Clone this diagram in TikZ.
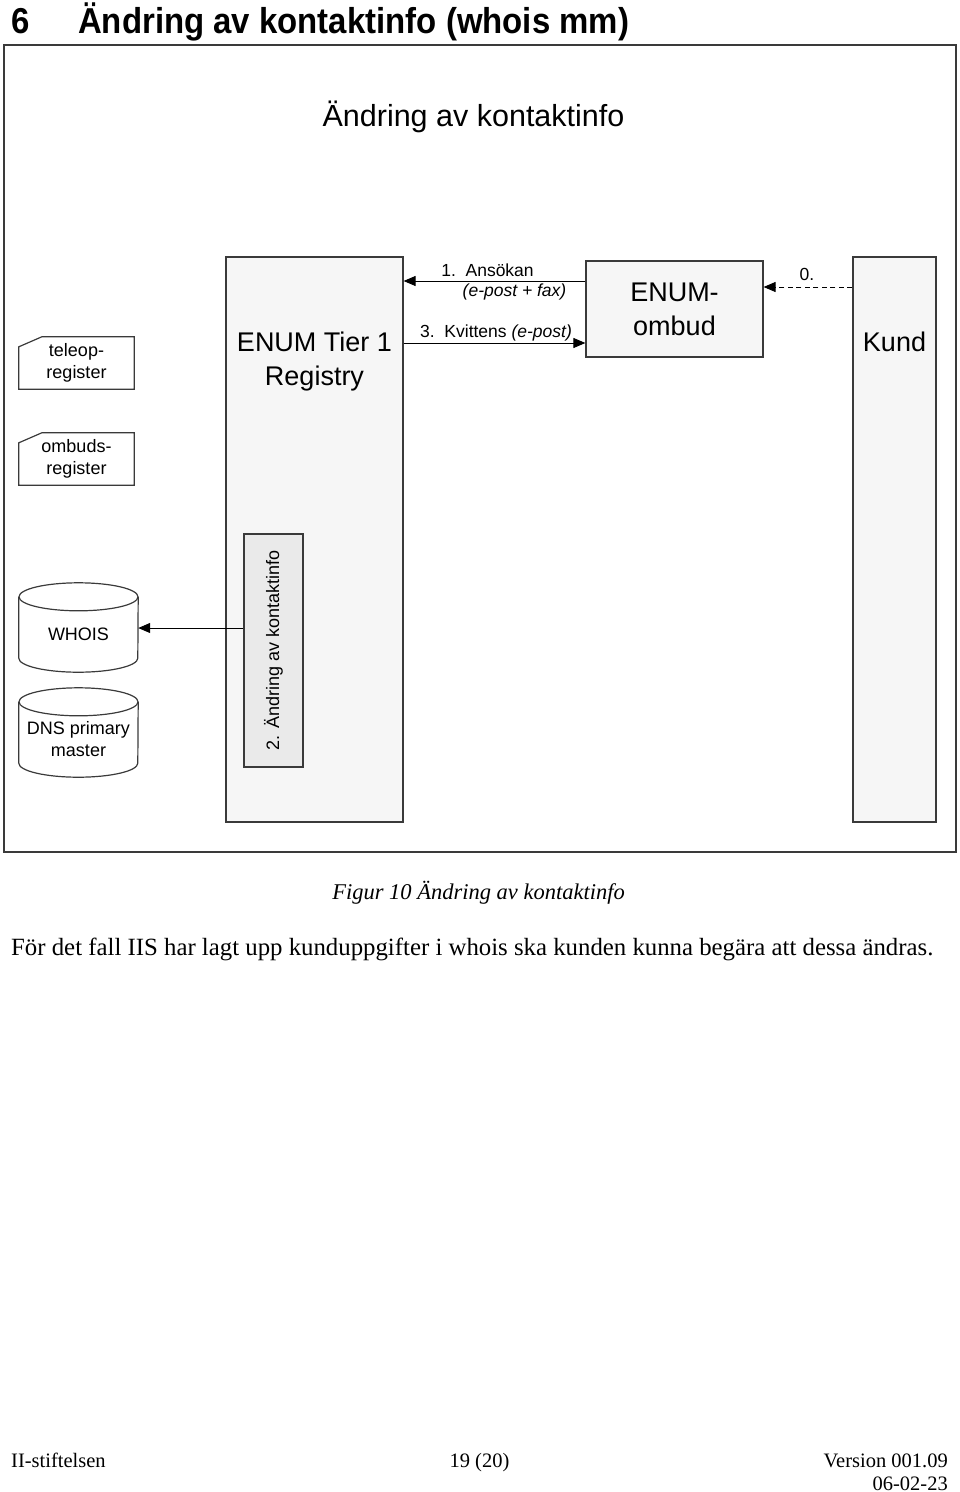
\documentclass[tikz,border=0pt]{standalone}
\usepackage{fontspec}
\setmainfont{Liberation Serif}
\setsansfont{Liberation Sans}
\newfontfamily\titlefont[FakeStretch=0.915]{Liberation Sans}
\usetikzlibrary{positioning, arrows.meta}
\definecolor{boxfill}{HTML}{F6F6F6}
\definecolor{chgfill}{HTML}{EAEAEA}
\definecolor{edge}{HTML}{3A3A3A}
\newcommand{\fsz}[2]{\fontsize{#1}{#2}\selectfont}

\begin{document}
\begin{tikzpicture}[
    x=1pt, y=-1pt,
    every node/.style={font=\sffamily},
    box/.style={draw=edge, line width=1.2pt, fill=boxfill},
    card/.style={minimum width=115pt, minimum height=52pt, inner sep=0pt, align=center, font=\sffamily\fsz{18}{22}},
    db/.style={minimum width=119pt, minimum height=75pt, inner sep=0pt, align=center, font=\sffamily\fsz{18}{22}},
    outline/.style={draw=edge, line width=1.2pt},
    lbl/.style={font=\sffamily\fsz{17.5}{20}, inner sep=0pt},
    big/.style={font=\sffamily\fsz{27}{34}, align=center},
    serif/.style={inner sep=0pt, font=\rmfamily\fsz{20.5}{24}},
    >={Triangle[length=12pt,width=10pt]},
    arr/.style={->, line width=1pt},
  ]
  \useasboundingbox (0,0) rectangle (960,1492);

  % section heading
  \node[font=\titlefont\bfseries\fsz{36}{40}, anchor=base west, inner sep=0pt] (secnum) at (11,33) {6};
  \node[font=\titlefont\bfseries\fsz{36}{40}, anchor=base west, inner sep=0pt] (sectitle) at (78,33) {Ändring av kontaktinfo (whois mm)};

  % figure frame
  \node[draw=edge, line width=1.3pt, minimum width=952pt, minimum height=807pt] (frame) at (480,448.5) {};
  \node[font=\sffamily\fsz{30.5}{34}] (heading) at (473.5,117) {Ändring av kontaktinfo};

  % actors
  \node[box, minimum width=177pt, minimum height=565pt] (reg) at (314.5,539.5) {};
  \node[big] (regtxt) at (314.5,362) {ENUM Tier 1\\Registry};
  \node[box, minimum width=83pt, minimum height=565pt] (kund) at (894.5,539.5) {};
  \node[big] (kundtxt) at (894.5,342) {Kund};
  \node[box, big, minimum width=177pt, minimum height=96pt] (ombud) at (674.5,309) {ENUM-\\ombud};
  \node[box, fill=chgfill, rotate=90, minimum width=233pt, minimum height=59pt, font=\sffamily\fsz{18}{22}] (chg) at (273.5,650.5) {2. Ändring av kontaktinfo};

  % registers
  \node[card] (teleop) at (76.5,363) {teleop-\\register};
  \node[card] (ombreg) at (76.5,459) {ombuds-\\register};
  \foreach \n in {teleop, ombreg}
    \draw[outline] ([yshift=-10pt]\n.north west) -- ([xshift=23pt]\n.north west) -- (\n.north east) -- (\n.south east) -- (\n.south west) -- cycle;

  % databases
  \node[db] (whois) at (78.5,634.5) {WHOIS};
  \node[db] (dns) at (78.5,739.5) {DNS primary\\master};
  \foreach \n in {whois, dns} {
    \draw[outline] (\n.north west) -- ([yshift=14pt]\n.south west)
      arc[start angle=180, end angle=360, x radius=59.5pt, y radius=14pt] -- (\n.north east);
    \draw[outline] (\n.north) ellipse[x radius=59.5pt, y radius=14pt];
  }

  % messages
  \coordinate (a1) at ([yshift=28pt]ombud.west);
  \coordinate (a3) at ([yshift=-34pt]ombud.west);
  \coordinate (a0) at ([yshift=22pt]ombud.east);
  \coordinate (w) at ([yshift=6.5pt]whois.east);
  \draw[arr] (a1) -- (a1 -| reg.east);
  \draw[arr] (a3 -| reg.east) -- (a3);
  \draw[arr, dashed, dash pattern=on 5pt off 3.5pt] (a0 -| kund.west) -- (a0);
  \draw[arr] (chg.north |- w) -- (w);

  \node[lbl] (l1) at (487.5,270) {1.\ \ Ansökan};
  \node[lbl] (l1b) at (514.5,292) {\itshape (e-post + fax)};
  \node[lbl] (l3) at (496,333) {3.\ \ Kvittens \textit{(e-post)}};
  \node[lbl] (l0) at (807,274) {0.};

  % caption and body text
  \node[font=\rmfamily\itshape\fsz{22.5}{26}] (cap) at (478.5,893) {Figur 10 Ändring av kontaktinfo};
  \node[serif, font=\rmfamily\fsz{24.8}{28}, anchor=base west] (para) at (11,955) {För det fall IIS har lagt upp kunduppgifter i whois ska kunden kunna begära att dessa ändras.};

  % footer
  \node[serif, anchor=base west] (foot1) at (11,1467) {II-stiftelsen};
  \node[serif, anchor=base] (foot2) at (479.5,1467) {19 (20)};
  \node[serif, anchor=base east] (foot3) at (948,1467) {Version 001.09};
  \node[serif, anchor=base east] (foot4) at (948,1490) {06-02-23};
\end{tikzpicture}
\end{document}
